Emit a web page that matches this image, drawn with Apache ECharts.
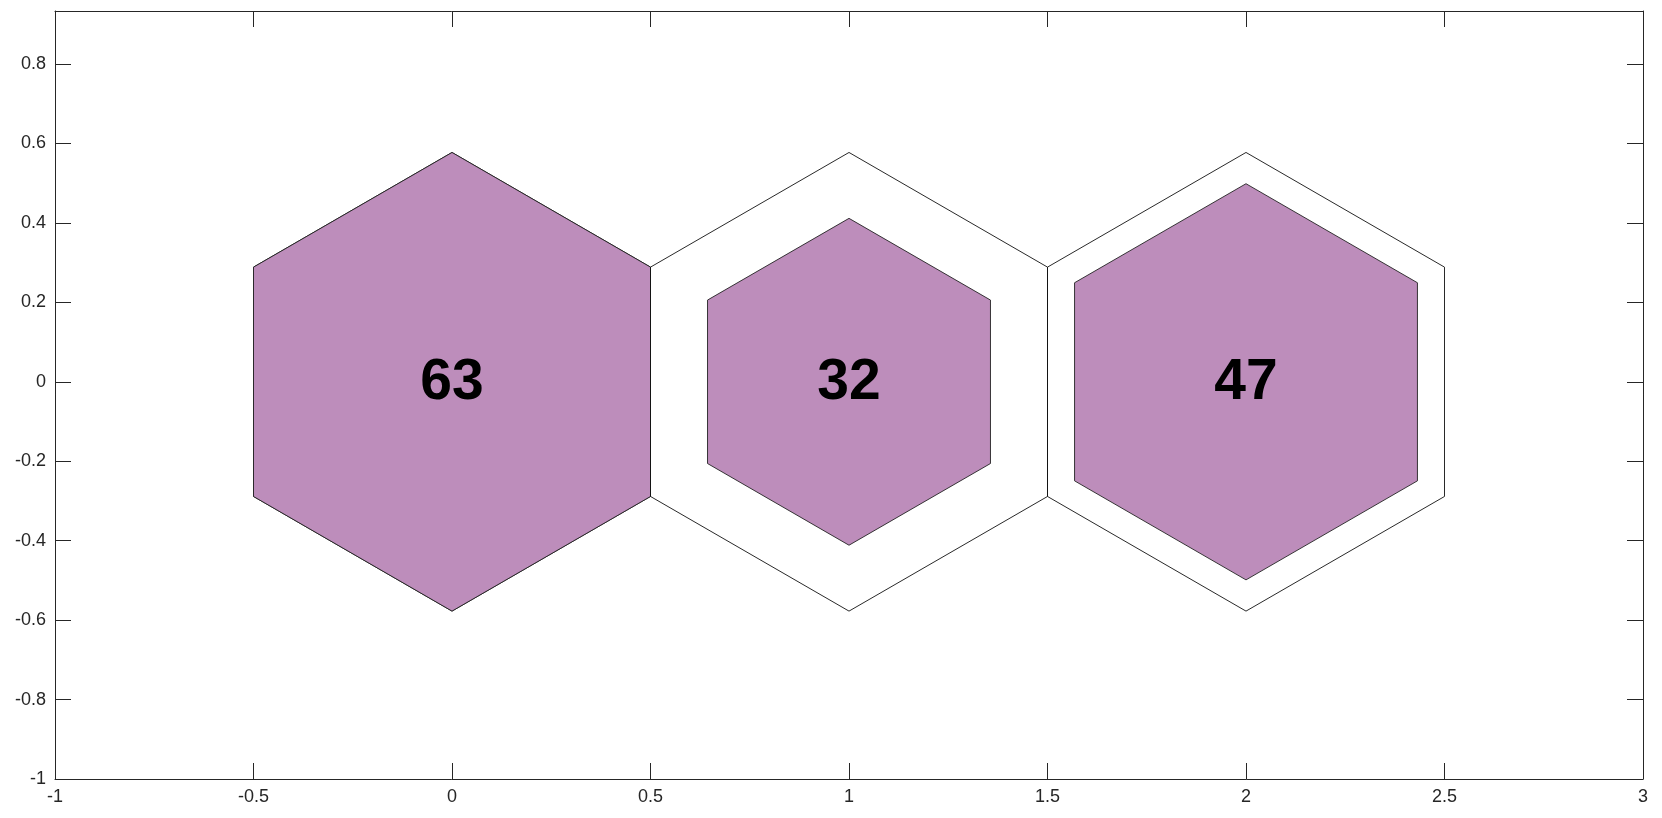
<!DOCTYPE html>
<html>
<head>
<meta charset="utf-8">
<script src="https://cdn.jsdelivr.net/npm/echarts@6/dist/echarts.min.js"></script>
<style>html,body{margin:0;padding:0;background:#fff}#c{width:1662px;height:818px}</style>
</head>
<body>
<div id="c"></div>
<script>
// Data
var centersX = [0, 1, 2];
var centersY = [0, 0, 0];
var values = [63, 32, 47];
var xTicks = [-1, -0.5, 0, 0.5, 1, 1.5, 2, 2.5, 3];
var yTicks = [-1, -0.8, -0.6, -0.4, -0.2, 0, 0.2, 0.4, 0.6, 0.8];

var R = 1 / Math.sqrt(3);
var maxV = Math.max.apply(null, values);
var data = centersX.map(function (x, i) { return [x, centersY[i], values[i]]; });

function hexPoints(api, cx, cy, r) {
  var pts = [];
  for (var k = 0; k < 6; k++) {
    var a = Math.PI / 2 + k * Math.PI / 3;
    pts.push(api.coord([cx + r * Math.cos(a), cy + r * Math.sin(a)]));
  }
  return pts;
}

var chart = echarts.init(document.getElementById('c'), null, {renderer: 'canvas'});
var axisCommon = {
  type: 'value',
  axisLine: {show: true, onZero: false, lineStyle: {color: '#262626', width: 1}},
  axisTick: {show: true, inside: true, length: 16, lineStyle: {color: '#262626', width: 1}},
  splitLine: {show: false}
};
var labelStyle = {color: '#262626', fontSize: 18, fontFamily: 'Liberation Sans, Arial, sans-serif'};

chart.setOption({
  animation: false,
  backgroundColor: '#fff',
  grid: {left: 55, right: 19, top: 11, bottom: 39, containLabel: false},
  xAxis: [
    Object.assign({}, axisCommon, {min: -1, max: 3, interval: 0.5, position: 'bottom',
      axisLabel: Object.assign({margin: 9, formatter: function (v) { return String(xTicks[Math.round((v + 1) * 2)]); }}, labelStyle)}),
    Object.assign({}, axisCommon, {min: -1, max: 3, interval: 0.5, position: 'top', axisLabel: {show: false}})
  ],
  yAxis: [
    Object.assign({}, axisCommon, {min: -1, max: 0.9335, interval: 0.2, position: 'left',
      axisLabel: Object.assign({margin: 9, showMaxLabel: false, formatter: function (v) {
        var i = Math.round((v + 1) * 5);
        return i < yTicks.length ? String(yTicks[i]) : '';
      }}, labelStyle)}),
    Object.assign({}, axisCommon, {min: -1, max: 0.9335, interval: 0.2, position: 'right', axisLabel: {show: false}})
  ],
  series: [{
    type: 'custom',
    xAxisIndex: 0,
    yAxisIndex: 0,
    data: data,
    clip: false,
    renderItem: function (params, api) {
      var cx = api.value(0), cy = api.value(1), v = api.value(2);
      var rIn = R * Math.sqrt(v / maxV);
      var c = api.coord([cx, cy]);
      return {
        type: 'group',
        children: [
          {type: 'polygon', shape: {points: hexPoints(api, cx, cy, R)},
            style: {fill: 'none', stroke: '#111', lineWidth: 0.9}},
          {type: 'polygon', shape: {points: hexPoints(api, cx, cy, rIn)},
            style: {fill: '#BD8DBB', stroke: '#222', lineWidth: 0.9}},
          {type: 'text', x: c[0], y: c[1] + 1,
            style: {text: String(v), fill: '#000', fontSize: 57, fontWeight: 'bold',
              fontFamily: 'Liberation Sans, Arial, sans-serif', align: 'center', verticalAlign: 'middle'}}
        ]
      };
    }
  }]
});
</script>
</body>
</html>
